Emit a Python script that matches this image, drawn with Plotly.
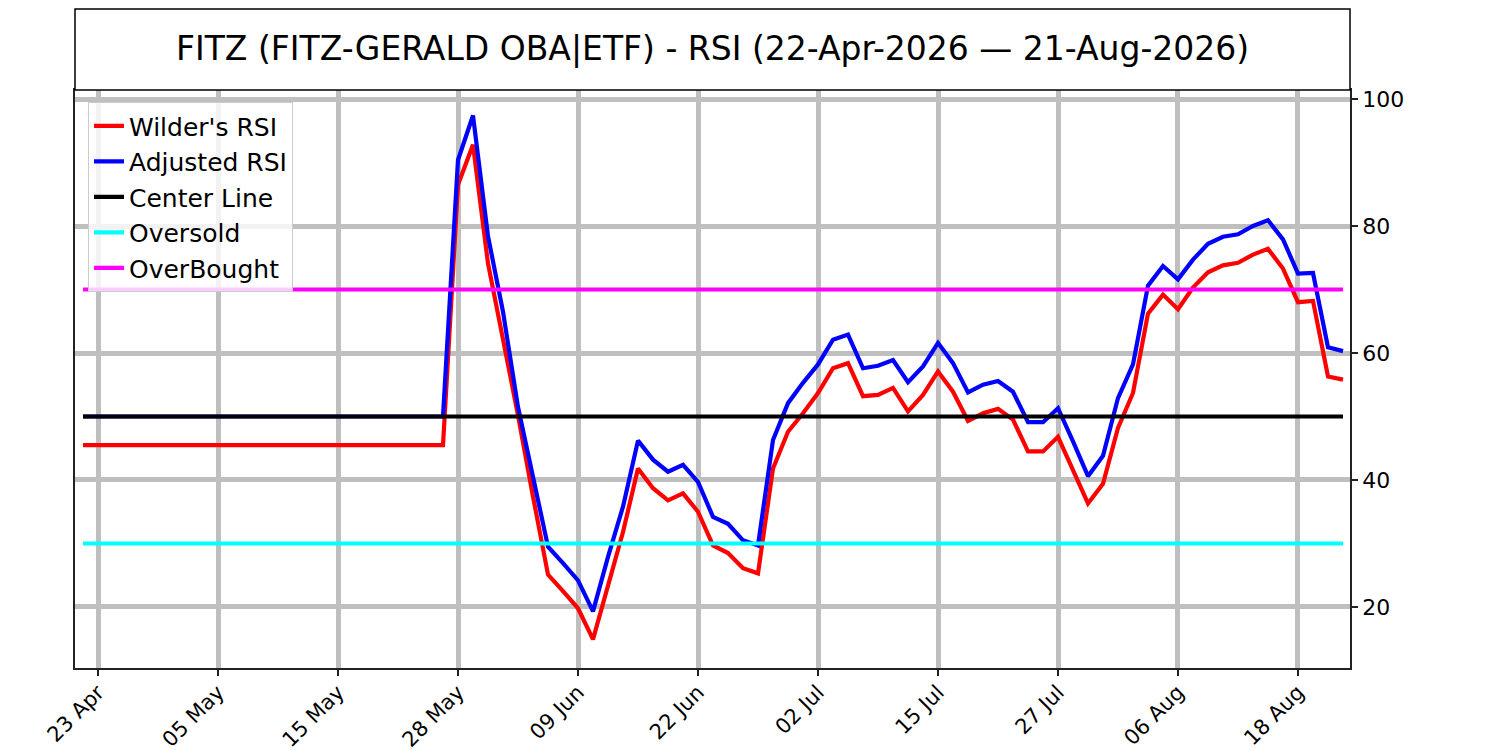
import pandas as pd
import plotly.graph_objects as go

# trading days 22 Apr - 21 Aug 2026 (US market holidays skipped)
holidays = ["2026-05-25", "2026-06-19", "2026-07-03"]
dates = pd.bdate_range("2026-04-22", "2026-08-21", freq="C", holidays=holidays)
x_values = [d.strftime("%Y-%m-%d") for d in dates]

wilders_rsi = [
    45.5, 45.5, 45.5, 45.5, 45.5, 45.5, 45.5, 45.5, 45.5, 45.5,
    45.5, 45.5, 45.5, 45.5, 45.5, 45.5, 45.5, 45.5, 45.5, 45.5,
    45.5, 45.5, 45.5, 45.5, 45.5,
    86.5, 92.8, 74.1, 62.5, 50.2, 37.4, 25.1, 22.5, 19.8, 14.9,
    23.2, 31.8, 41.8, 38.7, 36.8, 37.9, 35.0, 29.7, 28.5, 26.1,
    25.3, 41.8, 47.6, 50.5, 53.7, 57.6, 58.4, 53.2, 53.4, 54.5,
    50.8, 53.4, 57.1, 53.9, 49.3, 50.5, 51.2, 49.5, 44.5, 44.5,
    46.8, 41.6, 36.3, 39.4, 48.2, 53.7, 66.2, 69.2, 66.9, 70.3,
    72.7, 73.8, 74.2, 75.5, 76.4, 73.3, 68.0, 68.2, 56.3, 55.8,
]
adjusted_rsi = [
    50.0, 50.0, 50.0, 50.0, 50.0, 50.0, 50.0, 50.0, 50.0, 50.0,
    50.0, 50.0, 50.0, 50.0, 50.0, 50.0, 50.0, 50.0, 50.0, 50.0,
    50.0, 50.0, 50.0, 50.0, 50.0,
    90.4, 97.4, 78.4, 66.5, 51.5, 40.3, 29.5, 26.9, 24.2, 19.3,
    27.9, 35.8, 46.2, 43.2, 41.3, 42.4, 39.7, 34.2, 33.1, 30.5,
    29.7, 46.3, 52.1, 55.3, 58.2, 62.1, 62.9, 57.6, 58.0, 58.9,
    55.4, 57.9, 61.6, 58.4, 53.8, 55.0, 55.6, 53.9, 49.1, 49.1,
    51.3, 46.1, 40.6, 43.8, 52.9, 58.2, 70.6, 73.7, 71.6, 74.7,
    77.2, 78.3, 78.7, 80.0, 80.9, 77.9, 72.5, 72.6, 60.9, 60.3,
]
center_level = 50
oversold_level = 30
overbought_level = 70

tick_vals = x_values[1::8]
tick_text = [d.strftime("%d %b") for d in dates[1::8]]

font = "DejaVu Sans"
lw = 4.2

fig = go.Figure()
fig.add_trace(go.Scatter(x=x_values, y=wilders_rsi, name="Wilder's RSI",
                         mode="lines", line=dict(color="#ff0000", width=lw)))
fig.add_trace(go.Scatter(x=x_values, y=adjusted_rsi, name="Adjusted RSI",
                         mode="lines", line=dict(color="#0000ff", width=lw)))
fig.add_trace(go.Scatter(x=x_values, y=[center_level] * len(x_values), name="Center Line",
                         mode="lines", line=dict(color="#000000", width=lw)))
fig.add_trace(go.Scatter(x=x_values, y=[oversold_level] * len(x_values), name="Oversold",
                         mode="lines", line=dict(color="#00ffff", width=lw)))
fig.add_trace(go.Scatter(x=x_values, y=[overbought_level] * len(x_values), name="OverBought",
                         mode="lines", line=dict(color="#ff00ff", width=lw)))

# title box above the plot
fig.add_shape(type="rect", xref="paper", yref="paper", x0=0, x1=1, y0=1, y1=1.14,
              line=dict(color="black", width=1.5), fillcolor="white")
fig.add_annotation(text="FITZ (FITZ-GERALD OBA|ETF) - RSI (22-Apr-2026 — 21-Aug-2026)",
                   xref="paper", yref="paper", x=0.5, y=1.071, showarrow=False,
                   xanchor="center", yanchor="middle",
                   font=dict(family=font, size=33, color="black"))

# page has an 8px body margin, so margins are pulled in by 8
fig.update_layout(
    width=1500, height=750,
    margin=dict(l=67, r=158, t=82, b=90),
    paper_bgcolor="white", plot_bgcolor="white",
    font=dict(family=font, color="black"),
    showlegend=True,
    legend=dict(x=0.0102, y=0.979, xanchor="left", yanchor="top",
                bgcolor="rgba(255,255,255,0.8)", bordercolor="#cccccc", borderwidth=1,
                font=dict(family=font, size=25, color="black"), itemwidth=30),
)
fig.update_xaxes(type="category", range=[-0.533, 84.467], automargin=False,
                 tickmode="array", tickvals=tick_vals, ticktext=tick_text, tickangle=-45,
                 ticks="outside", ticklen=6, tickwidth=1.5, tickcolor="#222",
                 ticklabelstandoff=-4,
                 tickfont=dict(family=font, size=21, color="black"),
                 showgrid=True, gridcolor="#bfbfbf", gridwidth=4.5,
                 showline=True, linecolor="#222", linewidth=1.5, mirror=True, zeroline=False)
fig.update_yaxes(range=[10.39, 101.42], side="right", tickvals=[20, 40, 60, 80, 100],
                 automargin=False,
                 ticks="outside", ticklen=6, tickwidth=1.5, tickcolor="#222",
                 tickfont=dict(family=font, size=22, color="black"),
                 showgrid=True, gridcolor="#bfbfbf", gridwidth=4.5,
                 showline=True, linecolor="#222", linewidth=1.5, mirror=True, zeroline=False)

fig.write_html("out.html")
